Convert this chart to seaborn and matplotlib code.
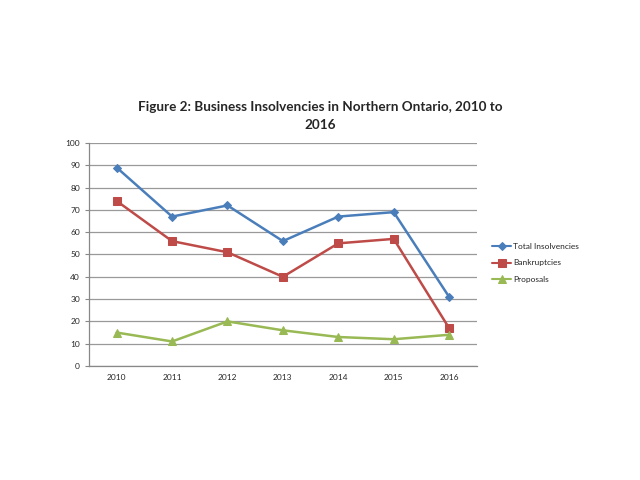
import matplotlib
matplotlib.use("Agg")
import matplotlib.pyplot as plt
from matplotlib.ticker import MultipleLocator
import seaborn as sns
import pandas as pd

years = [2010, 2011, 2012, 2013, 2014, 2015, 2016]
total_insolvencies = [89, 67, 72, 56, 67, 69, 31]
bankruptcies = [74, 56, 51, 40, 55, 57, 17]
proposals = [15, 11, 20, 16, 13, 12, 14]

series_names = ["Total Insolvencies", "Bankruptcies", "Proposals"]
colors = ["#4A7EBB", "#BE4B48", "#98B954"]
markers = ["D", "s", "^"]
marker_sizes = [4, 6, 6]

df = pd.DataFrame({
    "Year": years * 3,
    "Value": total_insolvencies + bankruptcies + proposals,
    "Series": [n for n in series_names for _ in years],
})

sns.set_style("white")
plt.rcParams["font.family"] = ["Lato", "DejaVu Sans"]

fig = plt.figure(figsize=(6.4, 4.8), dpi=100)
ax = fig.add_axes([0.139, 0.2375, 0.606, 0.4646])

for name, color, marker, ms in zip(series_names, colors, markers, marker_sizes):
    sub = df[df["Series"] == name]
    sns.lineplot(data=sub, x="Year", y="Value", color=color, marker=marker,
                 markersize=ms, markeredgecolor=color, linewidth=1.8,
                 label=name, ax=ax)

ax.set_xlim(2009.5, 2016.5)
ax.set_ylim(0, 100)
ax.set_xticks(years)
ax.set_xticklabels([str(y) for y in years])
ax.set_xticks([y + 0.5 for y in [2009] + years], minor=True)
ax.tick_params(axis="x", which="major", length=0, labelsize=6, pad=6)
ax.tick_params(axis="x", which="minor", length=3, color="#888888", direction="out")
ax.yaxis.set_major_locator(MultipleLocator(10))
ax.tick_params(axis="y", length=3, color="#888888", direction="out", labelsize=6, left=True)
ax.yaxis.grid(True, color="#999999", linewidth=0.9)
ax.set_axisbelow(True)
for side in ["top", "right"]:
    ax.spines[side].set_visible(False)
for side in ["left", "bottom"]:
    ax.spines[side].set_color("#888888")
    ax.spines[side].set_linewidth(0.9)
ax.set_xlabel("")
ax.set_ylabel("")

leg = ax.legend(loc="center left", bbox_to_anchor=(1.02, 0.462), frameon=False,
                fontsize=6, handlelength=2.3, labelspacing=1.15, handletextpad=0.2)
for line in leg.get_lines():
    line.set_linewidth(1.5)

fig.text(0.5, 0.759, "Figure 2: Business Insolvencies in Northern Ontario, 2010 to\n2016",
         ha="center", va="center", fontsize=9.7, fontweight="bold", linespacing=1.6)

fig.savefig("out.png", dpi=100)
